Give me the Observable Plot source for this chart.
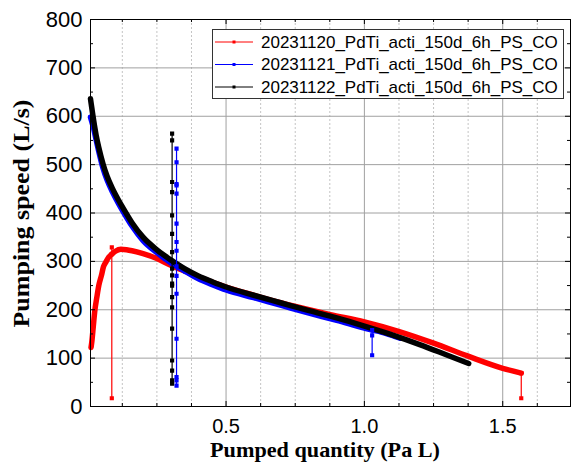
<!DOCTYPE html>
<html>
<head>
<meta charset="utf-8">
<script src="https://cdn.jsdelivr.net/npm/d3@7"></script>
<script src="https://cdn.jsdelivr.net/npm/@observablehq/plot@0.6"></script>
<style>
  html, body { margin: 0; padding: 0; background: #fff; }
  #chart { width: 573px; height: 465px; }
</style>
</head>
<body>
<div id="chart"></div>
<script>
// ---- series names and colours ----
const seriesNames = [
  "20231120_PdTi_acti_150d_6h_PS_CO",
  "20231121_PdTi_acti_150d_6h_PS_CO",
  "20231122_PdTi_acti_150d_6h_PS_CO"
];
const seriesColors = ["#ff0000", "#0000ff", "#000000"];

// ---- main curves (Pumped quantity Pa L, Pumping speed L/s) ----
const redX = [0.012, 0.015, 0.02, 0.025, 0.033, 0.04, 0.05, 0.057, 0.065, 0.075, 0.087, 0.10, 0.12, 0.14, 0.16, 0.20, 0.25, 0.30, 0.35, 0.40, 0.50, 0.60, 0.70, 0.80, 0.877, 1.00, 1.126, 1.25, 1.375, 1.50, 1.567];
const redY = [122, 135, 165, 195, 226, 250, 272, 289, 298, 308, 315, 321, 325, 324, 322, 316, 306, 292, 280, 268, 247, 230, 214, 200, 190, 175, 155, 131, 104, 79, 69];

const blueX = [0.010, 0.015, 0.02, 0.03, 0.04, 0.055, 0.07, 0.09, 0.11, 0.13, 0.16, 0.20, 0.25, 0.28, 0.30, 0.321, 0.35, 0.40, 0.45, 0.50, 0.60, 0.70, 0.80, 0.90, 1.00, 1.028, 1.06, 1.10, 1.13];
const blueY = [598, 588, 578, 552, 527, 493, 468, 443, 421, 401, 373, 343, 318, 305, 297, 290, 280, 264, 252, 241, 225, 209, 193, 178, 162, 158, 154, 147, 141];

const blackX = [0.010, 0.015, 0.019, 0.03, 0.04, 0.055, 0.07, 0.09, 0.11, 0.13, 0.16, 0.20, 0.25, 0.28, 0.305, 0.35, 0.40, 0.45, 0.50, 0.60, 0.70, 0.80, 0.90, 1.00, 1.10, 1.20, 1.30, 1.377];
const blackY = [636, 616, 600, 562, 535, 502, 476, 450, 428, 408, 380, 350, 324, 311, 301, 285, 270, 258, 247, 230, 214, 198, 183, 166, 148, 128, 106, 89];

// ---- vertical spikes (series index, x position, sampled speeds along it) ----
const spikeSeries = [0, 0, 1, 1, 2];
const spikeX = [0.087, 1.567, 0.321, 1.028, 0.305];
const spikeY = [
  [315, 329, 17],
  [69, 17],
  [290, 533, 505, 460, 457, 440, 378, 340, 322, 270, 233, 140, 61, 54, 43],
  [158, 147, 106],
  [301, 564, 550, 464, 443, 395, 357, 319, 285, 271, 254, 250, 226, 205, 161, 95, 74, 54, 47]
];

// ---- axis ticks ----
const xMajorTicks = [0.5, 1.0, 1.5];
const xMinorTicks = [0.125, 0.25, 0.375, 0.625, 0.75, 0.875, 1.125, 1.25, 1.375, 1.625];
const yMajorTicks = [0, 100, 200, 300, 400, 500, 600, 700, 800];
const yMinorTicks = [50, 150, 250, 350, 450, 550, 650, 750];
const yGridLines = [100, 200, 300, 400, 500, 600, 700];
const xTitle = "Pumped quantity (Pa L)";
const yTitle = "Pumping speed (L/s)";

// ---- build tables ----
const toRows = (s, xs, ys) => xs.map((x, i) => ({series: seriesNames[s], x, y: ys[i]}));
const curves = [
  ...toRows(0, redX, redY),
  ...toRows(1, blueX, blueY),
  ...toRows(2, blackX, blackY)
];
const spikes = spikeX.flatMap((x, i) => spikeY[i].map(y => ({series: seriesNames[spikeSeries[i]], id: i, x, y})));

const W = 573, H = 465;
const mL = 90, mR = 3, mT = 19, mB = 59;
const innerW = W - mL - mR, innerH = H - mT - mB;
const sans = "'Liberation Sans', Arial, sans-serif";
const serif = "'Liberation Serif', 'Times New Roman', serif";

const chart = Plot.plot({
  width: W,
  height: H,
  marginLeft: mL, marginRight: mR, marginTop: mT, marginBottom: mB,
  style: {fontFamily: sans, fontSize: "20px", color: "#000", background: "#fff", overflow: "visible"},
  x: {domain: [0.01, 1.745]},
  y: {domain: [0, 800]},
  color: {domain: seriesNames, range: seriesColors},
  marks: [
    Plot.ruleX(xMinorTicks, {stroke: "#c4c4c4", strokeDasharray: "2,2", strokeWidth: 1}),
    Plot.ruleX(xMajorTicks, {stroke: "#a0a0a0", strokeWidth: 1}),
    Plot.ruleY(yGridLines, {stroke: "#a0a0a0", strokeWidth: 1}),
    Plot.line(curves, {x: "x", y: "y", z: "series", stroke: "series", strokeWidth: 5.5, strokeLinejoin: "round", strokeLinecap: "round", curve: "monotone-x"}),
    Plot.line(spikes, {x: "x", y: "y", z: "id", stroke: "series", strokeWidth: 1.2}),
    Plot.dot(spikes, {x: "x", y: "y", fill: "series", stroke: "series", symbol: "square", r: 1.5}),
    Plot.frame({stroke: "#000", strokeWidth: 1}),
    // inward tick marks on all four sides
    Plot.tickX(xMajorTicks, {insetTop: innerH - 5, stroke: "#000"}),
    Plot.tickX(xMinorTicks, {insetTop: innerH - 3, stroke: "#000"}),
    Plot.tickX(xMajorTicks, {insetBottom: innerH - 5, stroke: "#000"}),
    Plot.tickX(xMinorTicks, {insetBottom: innerH - 3, stroke: "#000"}),
    Plot.tickY(yMajorTicks, {insetRight: innerW - 5, stroke: "#000"}),
    Plot.tickY(yMinorTicks, {insetRight: innerW - 3, stroke: "#000"}),
    Plot.tickY(yMajorTicks, {insetLeft: innerW - 5, stroke: "#000"}),
    Plot.tickY(yMinorTicks, {insetLeft: innerW - 3, stroke: "#000"}),
    Plot.axisX({ticks: xMajorTicks, tickSize: 0, tickPadding: 12, tickFormat: d3.format(".1f"), label: null, fontSize: 20}),
    Plot.axisY({ticks: yMajorTicks, tickSize: 0, tickPadding: 8, label: null, fontSize: 22})
  ]
});

const svg = d3.select(chart);

// ---- axis titles ----
svg.append("text")
  .attr("x", mL + innerW / 2 - 5).attr("y", 457)
  .attr("text-anchor", "middle")
  .attr("font-family", serif).attr("font-weight", "bold").attr("font-size", 22)
  .attr("fill", "#000")
  .attr("textLength", 230).attr("lengthAdjust", "spacingAndGlyphs")
  .text(xTitle);
svg.append("text")
  .attr("transform", `translate(29,${mT + innerH / 2 + 1}) rotate(-90)`)
  .attr("text-anchor", "middle")
  .attr("font-family", serif).attr("font-weight", "bold").attr("font-size", 23)
  .attr("fill", "#000")
  .attr("textLength", 228).attr("lengthAdjust", "spacingAndGlyphs")
  .text(yTitle);

// ---- legend inside the plot area ----
const lg = svg.append("g").attr("class", "legend");
lg.append("rect")
  .attr("x", 212.5).attr("y", 29.5).attr("width", 351).attr("height", 69)
  .attr("fill", "#fff").attr("stroke", "#333").attr("stroke-width", 1);
seriesNames.forEach((name, i) => {
  const cy = 42 + i * 22.5;
  lg.append("line").attr("x1", 215).attr("x2", 253).attr("y1", cy).attr("y2", cy)
    .attr("stroke", seriesColors[i]).attr("stroke-width", 1);
  lg.append("rect").attr("x", 232.5).attr("y", cy - 1.5).attr("width", 3).attr("height", 3)
    .attr("fill", seriesColors[i]);
  lg.append("text").attr("x", 261).attr("y", cy).attr("dy", "0.35em")
    .attr("text-anchor", "start")
    .attr("font-family", sans).attr("font-size", 17)
    .attr("fill", "#000").text(name);
});

document.getElementById("chart").appendChild(chart);
</script>
</body>
</html>
